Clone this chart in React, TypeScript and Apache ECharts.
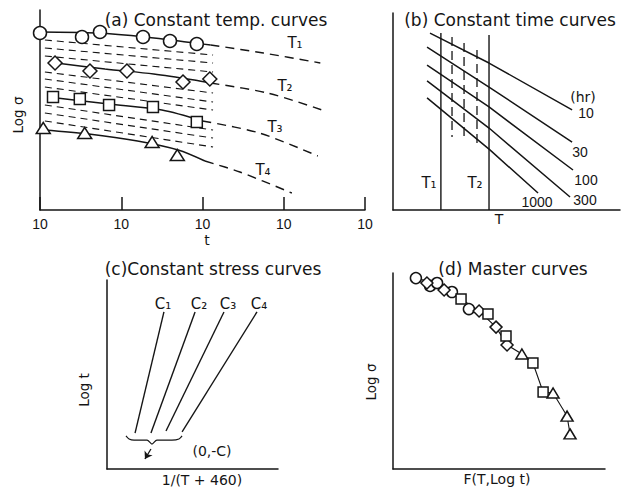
import React, { useEffect, useRef } from 'react';
import * as echarts from 'echarts';

// ---------- Panel (a): constant temperature curves (x: log t decades, y: log sigma) ----------
const aTickLabels = ['10', '10', '10', '10', '10'];
const t1Marks = [[0, 8.85], [0.517, 8.65], [0.738, 8.9], [1.268, 8.65], [1.6, 8.45], [1.93, 8.3]];
const t1Solid = [[0, 8.9], [0.7, 8.85], [1.3, 8.65], [1.9, 8.35], [2.1, 8.25]];
const t1Dash = [[2.1, 8.25], [2.75, 7.85], [3.45, 7.35]];
const t2Marks = [[0.185, 7.35], [0.615, 6.95], [1.07, 6.95], [1.76, 6.4], [2.09, 6.55]];
const t2Solid = [[0.2, 7.35], [0.8, 7.05], [1.4, 6.8], [1.9, 6.5], [2.1, 6.35]];
const t2Dash = [[2.1, 6.35], [2.8, 5.85], [3.47, 5.0]];
const t3Marks = [[0.16, 5.65], [0.49, 5.55], [0.85, 5.25], [1.39, 5.15], [1.93, 4.4]];
const t3Solid = [[0.1, 5.65], [0.85, 5.3], [1.5, 5.0], [2.0, 4.45]];
const t3Dash = [[2.0, 4.45], [2.7, 3.85], [3.42, 2.7]];
const t4Marks = [[0.04, 4.1], [0.55, 3.85], [1.38, 3.4], [1.69, 2.75]];
const t4Solid = [[0.05, 4.0], [0.6, 3.8], [1.2, 3.45], [1.7, 3.0], [2.03, 2.45]];
const t4Dash = [[2.03, 2.45], [2.46, 1.9], [3.1, 0.85]];
const hatchX = [0.06, 2.13];
const hatchLeft = [8.5, 8.1, 7.7, 6.9, 6.55, 6.15, 5.25, 4.85, 4.45];
const hatchRight = [7.75, 7.35, 6.9, 5.85, 5.4, 5.0, 4.0, 3.6, 3.15];

// ---------- Panel (b): constant time curves (x: T, y: log sigma) ----------
const hr10 = [[1.63, 8.98], [4.23, 7.46], [7.89, 5.08]];
const hr30 = [[1.5, 8.27], [4.23, 6.24], [7.89, 3.45]];
const hr100 = [[1.5, 7.36], [4.23, 5.23], [7.93, 2.03]];
const hr300 = [[1.5, 6.55], [4.23, 4.16], [7.8, 0.66]];
const hr1000 = [[1.5, 5.69], [4.27, 3.05], [6.39, 0.86]];
const tempT1 = [[2.11, 0], [2.11, 8.98]];
const tempT2 = [[4.23, 0], [4.23, 8.88]];
const dashVX = [2.6, 3.13, 3.7];
const dashVTop = [8.78, 8.48, 8.12];
const dashVBottom = [3.71, 3.55, 3.25];

// ---------- Panel (c): constant stress curves (x: 1/(T+460), y: log t) ----------
const c1 = [[1.64, 1.9], [3.33, 8.31]];
const c2 = [[2.57, 1.9], [5.15, 8.31]];
const c3 = [[3.45, 2.01], [6.84, 8.31]];
const c4 = [[4.39, 1.96], [8.77, 8.31]];
const brace = [[1.11, 1.75], [1.29, 1.59], [1.58, 1.53], [2.34, 1.53], [2.63, 1.32], [2.92, 1.53], [3.8, 1.53], [4.21, 1.59], [4.39, 1.75]];
const braceArrow = [[2.57, 1.06], [2.22, 0.53]];

// ---------- Panel (d): master curve (x: F(T, log t), y: log sigma) ----------
const mCircles = [[1.08, 9.74], [1.75, 9.34], [2.08, 9.49], [2.78, 9.03], [3.58, 8.16]];
const mDiamonds = [[1.6, 9.49], [2.41, 9.13], [4.06, 8.06], [4.86, 7.24], [5.38, 6.33]];
const mSquares = [[3.21, 8.67], [4.48, 7.91], [5.33, 6.79], [6.6, 5.41], [7.08, 3.93]];
const mTriangles = [[6.08, 5.87], [7.55, 3.88], [8.21, 2.7], [8.35, 1.79]];
const mLine = [[1.08, 9.74], [2.08, 9.45], [3.21, 8.67], [4.06, 8.06], [4.86, 7.24], [5.38, 6.33], [6.08, 5.87], [6.6, 5.41], [7.08, 3.93], [7.55, 3.88], [8.21, 2.7], [8.35, 1.79]];

const INK = '#151515';
const FONT = "'DejaVu Sans', sans-serif";
const NUMFONT = "'Liberation Sans Narrow', 'Liberation Sans', sans-serif";

function plainAxis(gridIndex: number, max: number) {
  return {
    gridIndex, type: 'value', min: 0, max,
    axisLine: { show: true, onZero: false, lineStyle: { color: INK, width: 1.5 } },
    axisTick: { show: false }, axisLabel: { show: false }, splitLine: { show: false },
  };
}

function lineS(g: number, data: number[][], dash?: number[] | null, width = 1.4, smooth: number | boolean = false) {
  return {
    type: 'line', xAxisIndex: g, yAxisIndex: g, data, symbol: 'none', smooth,
    lineStyle: { color: INK, width, type: dash ? dash : 'solid' }, silent: true, z: 2,
  };
}

function markS(g: number, data: number[][], symbol: string, size: number | number[]) {
  return {
    type: 'scatter', xAxisIndex: g, yAxisIndex: g, data, symbol, symbolSize: size,
    itemStyle: { color: '#fff', borderColor: INK, borderWidth: 1.5, opacity: 1 }, z: 5, silent: true,
  };
}

function txt(x: number, y: number, text: string, fontSize = 15, extra: any = {}) {
  return {
    type: 'text', x, y, silent: true, ...extra,
    style: { text, fontSize, fontFamily: extra.fontFamily || FONT, fill: INK, align: 'center', verticalAlign: 'middle' },
  };
}

export default function App() {
  const ref = useRef<HTMLDivElement>(null);
  useEffect(() => {
    const chart = echarts.init(ref.current!, null, { renderer: 'svg' });
    const series: any[] = [];
    // (a)
    hatchLeft.forEach((yl, i) => {
      series.push(lineS(0, [[hatchX[0], yl], [hatchX[1], hatchRight[i]]], [7, 5], 1.1));
    });
    [t1Solid, t2Solid, t3Solid, t4Solid].forEach((d) => series.push(lineS(0, d, null, 1.4, 0.3)));
    [t1Dash, t2Dash, t3Dash, t4Dash].forEach((d) => series.push(lineS(0, d, [9, 6], 1.4, 0.3)));
    series.push(markS(0, t1Marks, 'circle', 13));
    series.push(markS(0, t2Marks, 'diamond', 14));
    series.push(markS(0, t3Marks, 'rect', 11));
    series.push(markS(0, t4Marks, 'triangle', [14, 11]));
    // (b)
    [hr10, hr30, hr100, hr300, hr1000].forEach((d) => series.push(lineS(1, d, null, 1.5)));
    series.push(lineS(1, tempT1, null, 1.4));
    series.push(lineS(1, tempT2, null, 1.4));
    dashVX.forEach((x, i) => series.push(lineS(1, [[x, dashVTop[i]], [x, dashVBottom[i]]], [9, 5], 1.3)));
    // (c)
    [c1, c2, c3, c4].forEach((d) => series.push(lineS(2, d, null, 1.4)));
    series.push(lineS(2, brace, null, 1.2, 0.3));
    series.push({
      type: 'lines', coordinateSystem: 'cartesian2d', xAxisIndex: 2, yAxisIndex: 2,
      data: [{ coords: braceArrow }], symbol: ['none', 'arrow'], symbolSize: 7,
      lineStyle: { color: INK, width: 1.3, opacity: 1 }, silent: true,
    });
    // (d)
    series.push(lineS(3, mLine, null, 1.1));
    series.push(markS(3, mCircles, 'circle', 11));
    series.push(markS(3, mDiamonds, 'diamond', 12));
    series.push(markS(3, mSquares, 'rect', 10));
    series.push(markS(3, mTriangles, 'triangle', [12, 10]));

    const option: any = {
      animation: false,
      backgroundColor: '#ffffff',
      grid: [
        { left: 40, top: 10, width: 325, height: 200 },
        { left: 393, top: 13, width: 227, height: 197 },
        { left: 107, top: 280, width: 171, height: 189 },
        { left: 393, top: 273, width: 212, height: 196 },
      ],
      xAxis: [
        {
          gridIndex: 0, type: 'value', min: 0, max: 4, interval: 1,
          axisLine: { show: true, onZero: false, lineStyle: { color: INK, width: 1.5 } },
          axisTick: { show: true, inside: true, length: 13, lineStyle: { color: INK, width: 1.5 } },
          axisLabel: { formatter: (v: number) => aTickLabels[Math.round(v)], color: INK, fontSize: 14, fontFamily: NUMFONT, margin: 7 },
          splitLine: { show: false },
        },
        plainAxis(1, 10), plainAxis(2, 10), plainAxis(3, 10),
      ],
      yAxis: [plainAxis(0, 10), plainAxis(1, 10), plainAxis(2, 10), plainAxis(3, 10)],
      series,
      graphic: [
        // titles
        txt(216, 20, '(a) Constant temp. curves', 17),
        txt(510, 20, '(b) Constant time curves', 17),
        txt(213, 269, '(c)Constant stress curves', 17),
        txt(513, 269, '(d) Master curves', 17),
        // axis names
        txt(18, 115, 'Log σ', 13.5, { rotation: Math.PI / 2 }),
        txt(207, 240, 't', 14),
        txt(499, 219, 'T', 14),
        txt(84, 390, 'Log t', 13.5, { rotation: Math.PI / 2 }),
        txt(202, 480, '1/(T + 460)', 14),
        txt(371, 382, 'Log σ', 13.5, { rotation: Math.PI / 2 }),
        txt(497, 479, 'F(T,Log t)', 14),
        // (a) curve labels
        txt(295, 43, 'T₁', 15), txt(285, 86, 'T₂', 15), txt(275, 127, 'T₃', 15), txt(263, 170, 'T₄', 15),
        // (b) labels
        txt(583, 97, '(hr)', 14), txt(586, 113, '10', 14, { fontFamily: NUMFONT }),
        txt(580, 152, '30', 14, { fontFamily: NUMFONT }), txt(586, 180, '100', 14, { fontFamily: NUMFONT }),
        txt(585, 200, '300', 14, { fontFamily: NUMFONT }), txt(537, 202, '1000', 14, { fontFamily: NUMFONT }),
        txt(429, 183, 'T₁', 15), txt(475, 183, 'T₂', 15),
        // (c) labels
        txt(163, 304, 'C₁', 15), txt(199, 304, 'C₂', 15), txt(228, 304, 'C₃', 15), txt(259, 304, 'C₄', 15),
        txt(212, 451, '(0,-C)', 14),
      ],
    };
    chart.setOption(option);
    return () => chart.dispose();
  }, []);
  return <div ref={ref} style={{ position: 'fixed', left: 0, top: 0, width: 629, height: 491, background: '#fff' }} />;
}
